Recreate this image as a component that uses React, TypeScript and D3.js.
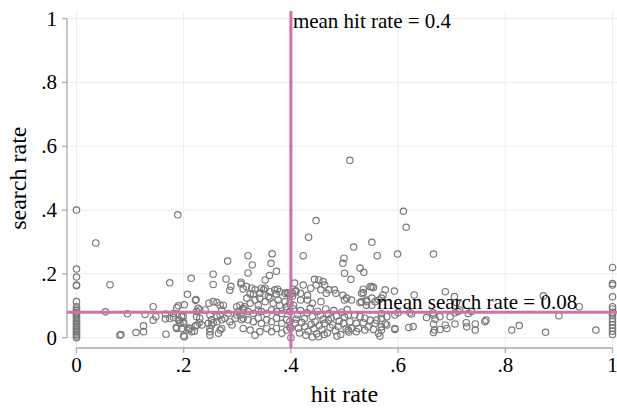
import React from "react";
import * as d3 from "d3";

const xTicks = [0, 0.2, 0.4, 0.6, 0.8, 1];
const yTicks = [0, 0.2, 0.4, 0.6, 0.8, 1];
const fmt = (v: number) => (v === 0 ? "0" : v === 1 ? "1" : String(v).replace(/^0/, ""));

const meanHitRate = 0.4;
const meanSearchRate = 0.08;

// observations: [hit rate, search rate]
const zeroHitObs: [number, number][] = [
  [0, .40], [0, .215], [0, .19], [0, .165], [0, .163], [0, .113], [0, .097], [0, .09], [0, .085], [0, .08],
  [0, .075], [0, .07], [0, .065], [0, .06], [0, .055], [0, .05], [0, .045], [0, .04], [0, .035], [0, .03],
  [0, .025], [0, .02], [0, .015], [0, .01], [0, .005], [0, 0],
];
const fullHitObs: [number, number][] = [
  [1, .22], [1, .17], [1, .165], [1, .128], [1, .097], [1, .09], [1, .08], [1, .075], [1, .07], [1, .06],
  [1, .05], [1, .04], [1, .03], [1, .02], [1, .01],
];
const lowHitObs: [number, number][] = [
  [.036, .297], [.189, .385], [.0625, .166], [.054, .081], [.095, .075], [.081, .008], [.083, .01], [.111, .016],
  [.125, .019], [.125, .037], [.128, .073], [.143, .097], [.143, .055], [.148, .066], [.166, .074], [.166, .059],
  [.167, .011], [.174, .172], [.174, .06], [.181, .063], [.181, .076], [.187, .094], [.19, .1], [.186, .033],
  [.192, .055], [.199, .066], [.2, .006], [.2, .045], [.201, .103], [.207, .136], [.214, .186], [.222, .117],
  [.21, .03], [.22, .02], [.225, .04],
];
const midLowObs: [number, number][] = [
  [.255, .199], [.255, .167], [.282, .24], [.279, .184], [.288, .161], [.286, .149], [.32, .257], [.328, .228],
  [.32, .203], [.365, .263], [.363, .233], [.373, .208], [.36, .195], [.352, .181], [.307, .174], [.307, .168],
  [.311, .153], [.223, .12], [.247, .108], [.255, .113], [.262, .11], [.268, .102], [.274, .102], [.324, .137],
  [.33, .137], [.345, .155], [.349, .15], [.358, .129], [.375, .152], [.373, .137], [.393, .141], [.403, .131],
  [.409, .147],
  [.271, .087], [.227, .092], [.23, .087], [.224, .082], [.24, .087], [.299, .097], [.305, .102], [.311, .092],
  [.196, .066], [.19, .056], [.193, .045], [.199, .05], [.196, .029], [.187, .029], [.212, .029], [.209, .024],
  [.215, .019], [.201, .003], [.222, .037], [.229, .047], [.234, .04], [.224, .066], [.23, .061], [.249, .071],
  [.252, .056], [.246, .045], [.255, .047], [.249, .029], [.249, .019], [.249, .008], [.252, .04], [.262, .066],
  [.268, .071], [.262, .05], [.271, .056], [.277, .061], [.268, .024], [.265, .014], [.271, .029], [.283, .076],
  [.286, .05], [.29, .04], [.296, .061], [.299, .071], [.302, .082], [.307, .071], [.308, .056],
  [.317, .16], [.327, .155], [.333, .15], [.342, .139], [.352, .155], [.361, .144], [.37, .15], [.379, .144],
  [.389, .139], [.395, .139], [.398, .133],
  [.318, .124], [.324, .108], [.314, .097], [.333, .118], [.339, .102], [.342, .124], [.352, .113], [.361, .124],
  [.367, .108], [.376, .118], [.379, .102], [.389, .113], [.392, .097], [.398, .108],
  [.311, .087], [.32, .082], [.33, .076], [.339, .087], [.345, .082], [.355, .076], [.364, .087], [.373, .082],
  [.383, .076], [.392, .087], [.398, .082],
  [.311, .061], [.32, .056], [.33, .05], [.339, .061], [.345, .045], [.355, .056], [.364, .05], [.373, .061],
  [.383, .045], [.392, .056], [.398, .05],
  [.311, .029], [.324, .024], [.333, .008], [.342, .019], [.355, .029], [.364, .019], [.373, .029], [.383, .014],
  [.392, .024], [.398, .033],
];
const midObs: [number, number][] = [
  [.433, .315], [.423, .257], [.447, .367], [.499, .249], [.497, .233], [.5, .202],
  [.407, .171], [.423, .165], [.444, .183], [.452, .181], [.46, .176], [.447, .165], [.463, .165], [.437, .155],
  [.456, .15], [.471, .15], [.481, .15], [.466, .139], [.431, .133], [.418, .139], [.409, .144], [.403, .139],
  [.484, .139], [.497, .133], [.5, .118], [.44, .108], [.456, .113], [.431, .118], [.418, .118], [.405, .102],
  [.405, .09], [.412, .072], [.418, .085], [.425, .06], [.43, .078], [.436, .092], [.44, .066], [.445, .05],
  [.45, .083], [.455, .07], [.46, .058], [.465, .09], [.47, .075], [.475, .062], [.48, .085], [.485, .068],
  [.49, .052], [.495, .08], [.5, .065], [.505, .088],
  [.408, .045], [.414, .03], [.42, .048], [.426, .035], [.432, .02], [.438, .042], [.443, .028], [.448, .012],
  [.453, .038], [.458, .025], [.463, .045], [.468, .015], [.473, .032], [.478, .04], [.483, .022], [.488, .035],
  [.493, .01], [.498, .045], [.503, .028], [.508, .018],
  [.41, .058], [.428, .008], [.452, .003], [.47, .055], [.486, .005], [.416, .015], [.44, .002], [.462, .01],
  [.4, 0], [.4, .03],
];
const highObs: [number, number][] = [
  [.51, .556], [.517, .284], [.551, .299], [.561, .257], [.512, .183], [.529, .218], [.536, .205], [.535, .141],
  [.532, .139], [.548, .16], [.554, .157], [.541, .113], [.529, .11], [.576, .15], [.572, .134],
  [.599, .262], [.61, .396], [.615, .346], [.666, .262], [.593, .146],
  [.532, .113], [.541, .118], [.551, .124], [.557, .113], [.564, .118], [.569, .124], [.513, .118], [.504, .124],
  [.541, .102], [.551, .102], [.551, .16], [.535, .152],
  [.507, .071], [.519, .071], [.529, .066], [.538, .061], [.51, .05], [.522, .045], [.535, .047], [.548, .055],
  [.56, .055], [.557, .045], [.569, .061], [.579, .066], [.594, .071], [.513, .029], [.526, .029], [.538, .024],
  [.554, .026], [.563, .014], [.566, .005], [.579, .04], [.594, .029], [.569, .034], [.544, .034], [.522, .019],
  [.507, .024],
  [.569, .076], [.6, .078], [.622, .078], [.625, .074], [.653, .063], [.666, .071], [.669, .058], [.678, .066],
  [.697, .066], [.712, .082], [.731, .076], [.737, .082], [.764, .055], [.762, .05],
  [.576, .043], [.594, .026], [.628, .035], [.666, .043], [.668, .024], [.666, .016], [.678, .026], [.688, .04],
  [.691, .029], [.706, .043], [.727, .047], [.744, .043], [.744, .024], [.728, .034], [.569, .024], [.62, .032],
  [.63, .134], [.688, .144], [.705, .129], [.709, .11], [.715, .087], [.665, .078], [.706, .078],
  [.871, .131], [.938, .097], [.9, .069], [.812, .024], [.826, .038], [.875, .017], [.969, .024],
];

const allObs = [...zeroHitObs, ...fullHitObs, ...lowHitObs, ...midLowObs, ...midObs, ...highObs];

export default function App() {
  const W = 617, H = 410;
  const x = d3.scaleLinear().domain([0, 1]).range([76.5, 612.5]);
  const y = d3.scaleLinear().domain([0, 1]).range([337.7, 18.6]);
  const regionLeft = 67, regionRight = 617, regionTop = 11, regionBottom = 348;
  const font = "'Liberation Serif', 'Times New Roman', serif";
  const pink = "#cf70a6";
  const grid = "#ececec";
  const axisCol = "#a9a9a9";

  return (
    <svg width={W} height={H} style={{ position: "absolute", left: 0, top: 0, background: "#fff" }}
      fontFamily={font}>
      <rect x={0} y={0} width={W} height={H} fill="#fff" />
      {yTicks.map((t) => (
        <line key={"gy" + t} x1={regionLeft} x2={regionRight} y1={y(t)} y2={y(t)} stroke={grid} strokeWidth={1} />
      ))}
      {xTicks.map((t) => (
        <line key={"gx" + t} x1={x(t)} x2={x(t)} y1={regionTop} y2={regionBottom} stroke={grid} strokeWidth={1} />
      ))}
      {/* y axis */}
      <line x1={regionLeft} x2={regionLeft} y1={y(1)} y2={y(0)} stroke={axisCol} strokeWidth={1.3} />
      {yTicks.map((t) => (
        <g key={"yt" + t}>
          <line x1={regionLeft - 5} x2={regionLeft} y1={y(t)} y2={y(t)} stroke={axisCol} strokeWidth={1.3} />
          <text x={57} y={y(t)} dy="0.33em" textAnchor="end" fontSize={21} fill="#000">{fmt(t)}</text>
        </g>
      ))}
      {/* x axis */}
      <line x1={x(0)} x2={x(1)} y1={regionBottom} y2={regionBottom} stroke={axisCol} strokeWidth={1.3} />
      {xTicks.map((t) => (
        <g key={"xt" + t}>
          <line x1={x(t)} x2={x(t)} y1={regionBottom} y2={regionBottom + 5} stroke={axisCol} strokeWidth={1.3} />
          <text x={x(t)} y={372} textAnchor="middle" fontSize={21} fill="#000">{fmt(t)}</text>
        </g>
      ))}
      <text x={x(0.5)} y={402} textAnchor="middle" fontSize={24} fill="#000">hit rate</text>
      <text transform={`translate(26,${(y(0) + y(1)) / 2}) rotate(-90)`} textAnchor="middle" fontSize={24} fill="#000">search rate</text>
      {/* points */}
      {allObs.map((d, i) => (
        <circle key={i} cx={x(d[0])} cy={y(d[1])} r={3.2} fill="none" stroke="#777" strokeWidth={1.15} />
      ))}
      {/* mean lines */}
      <line x1={x(meanHitRate)} x2={x(meanHitRate)} y1={regionTop} y2={regionBottom} stroke={pink} strokeWidth={3} />
      <line x1={regionLeft} x2={regionRight} y1={y(meanSearchRate)} y2={y(meanSearchRate)} stroke={pink} strokeWidth={3} />
      <text x={x(meanHitRate) + 2} y={28} fontSize={21} fill="#000">{`mean hit rate = ${meanHitRate}`}</text>
      <text x={377} y={309} fontSize={21} fill="#000">{`mean search rate = ${meanSearchRate}`}</text>
    </svg>
  );
}
